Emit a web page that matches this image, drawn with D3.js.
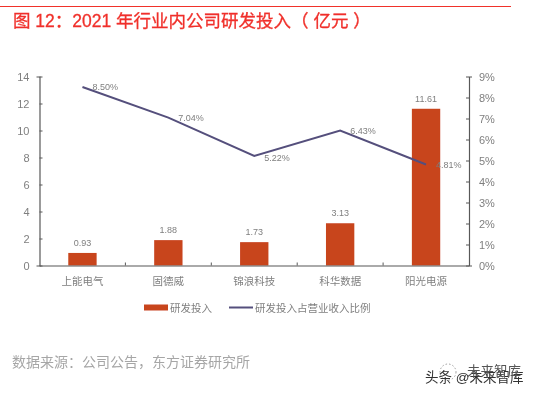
<!DOCTYPE html>
<html>
<head>
<meta charset="utf-8">
<script src="https://cdn.jsdelivr.net/npm/d3@7"></script>
<style>
  html, body { margin: 0; padding: 0; background: #fff; }
  svg { display: block; }
  text { font-family: "Liberation Sans", "Noto Sans CJK SC", sans-serif; }
</style>
</head>
<body>
<svg id="chart"></svg>
<script>
var categories = ["上能电气", "固德威", "锦浪科技", "科华数据", "阳光电源"];
var rdSpend = [0.93, 1.88, 1.73, 3.13, 11.61];
var rdRatio = [8.50, 7.04, 5.22, 6.43, 4.81];
var leftTicks = [0, 2, 4, 6, 8, 10, 12, 14];
var rightTicks = [0, 1, 2, 3, 4, 5, 6, 7, 8, 9];
var legendNames = ["研发投入", "研发投入占营业收入比例"];

var grey = "#7f7f7f", axisColor = "#595959", barColor = "#c8441f", lineColor = "#544f7c";

var margin = { top: 76.5, right: 65, bottom: 128.5, left: 39.5 },
  width = 534 - margin.left - margin.right,
  height = 394 - margin.top - margin.bottom;

var root = d3.select("#chart").attr("width", 534).attr("height", 394);

// reference is a slightly soft screenshot
var defs = root.append("defs");
defs.append("filter").attr("id", "soft")
  .append("feGaussianBlur").attr("stdDeviation", 0.4);

var page = root.append("g").attr("filter", "url(#soft)");

// header
page.append("line")
  .attr("x1", 0).attr("x2", 511).attr("y1", 6.5).attr("y2", 6.5)
  .attr("stroke", "#f0312c").attr("stroke-width", 1);
page.append("text")
  .attr("x", 13).attr("y", 27)
  .attr("fill", "#f0302a")
  .attr("stroke", "#f0302a")
  .attr("stroke-width", 0.3)
  .attr("font-size", 17.5)
  .attr("xml:space", "preserve")
  .style("white-space", "pre")
  .text("图 12：2021 年行业内公司研发投入（ 亿元 ）");

var svg = page.append("g")
  .attr("transform", "translate(" + margin.left + "," + margin.top + ")");

var x = d3.scaleBand().domain(categories).range([0, width]).paddingInner(0.67).paddingOuter(0.335);
var xOuter = d3.scaleBand().domain(categories).range([0, width]);
var y = d3.scaleLinear().domain([0, 14]).range([height, 0]);
var y2 = d3.scaleLinear().domain([0, 9]).range([height, 0]);

// bars
svg.selectAll(".bar")
  .data(categories)
  .enter()
  .append("rect")
  .attr("class", "bar")
  .attr("x", function (d) { return x(d); })
  .attr("width", x.bandwidth())
  .attr("y", function (d, i) { return y(rdSpend[i]); })
  .attr("height", function (d, i) { return height - y(rdSpend[i]); })
  .attr("fill", barColor);

svg.selectAll(".bar-label")
  .data(categories)
  .enter()
  .append("text")
  .attr("class", "bar-label")
  .attr("x", function (d) { return x(d) + x.bandwidth() / 2; })
  .attr("y", function (d, i) { return y(rdSpend[i]) - 7; })
  .attr("text-anchor", "middle")
  .attr("font-size", 9)
  .attr("fill", grey)
  .text(function (d, i) { return rdSpend[i].toFixed(2); });

// axes
function styleAxis(g) {
  g.selectAll("path").attr("stroke", axisColor).attr("stroke-width", 1.2);
  g.selectAll("line").attr("stroke", axisColor);
  g.selectAll("text").attr("fill", grey).attr("font-size", 11);
}

svg.append("g")
  .call(d3.axisLeft(y).tickValues(leftTicks).tickSize(3).tickSizeOuter(3).tickPadding(7))
  .call(styleAxis)
  .selectAll("line").attr("x2", 3);

svg.append("g")
  .attr("transform", "translate(" + width + ",0)")
  .call(d3.axisRight(y2).tickValues(rightTicks).tickFormat(function (d) { return d + "%"; })
    .tickSize(3).tickSizeOuter(3).tickPadding(7))
  .call(styleAxis)
  .selectAll("line").attr("x2", -3);

var xAxis = svg.append("g")
  .attr("transform", "translate(0," + height + ")")
  .call(d3.axisBottom(xOuter).tickSize(0).tickSizeOuter(0).tickPadding(12))
  .call(styleAxis);
xAxis.selectAll("text").attr("font-size", 10.5);

// tick marks sit between the categories and point up
svg.selectAll(".x-tick")
  .data(categories.slice(1))
  .enter()
  .append("line")
  .attr("class", "x-tick")
  .attr("x1", function (d) { return xOuter(d); })
  .attr("x2", function (d) { return xOuter(d); })
  .attr("y1", height)
  .attr("y2", height - 3)
  .attr("stroke", axisColor);

// ratio line
var line = d3.line()
  .x(function (d, i) { return xOuter(categories[i]) + xOuter.bandwidth() / 2; })
  .y(function (d) { return y2(d); });

svg.append("path")
  .datum(rdRatio)
  .attr("d", line)
  .attr("fill", "none")
  .attr("stroke", lineColor)
  .attr("stroke-width", 2);

var labelOffset = [[10, 3], [10, 3], [10, 5], [10, 3.5], [10, 4]];
svg.selectAll(".line-label")
  .data(rdRatio)
  .enter()
  .append("text")
  .attr("class", "line-label")
  .attr("x", function (d, i) { return xOuter(categories[i]) + xOuter.bandwidth() / 2 + labelOffset[i][0]; })
  .attr("y", function (d, i) { return y2(d) + labelOffset[i][1]; })
  .attr("font-size", 9)
  .attr("fill", grey)
  .text(function (d) { return d.toFixed(2) + "%"; });

// legend
var legend = page.append("g").attr("transform", "translate(144,307.5)");
legend.append("rect")
  .attr("x", 0).attr("y", -3).attr("width", 24).attr("height", 6).attr("fill", barColor);
legend.append("text")
  .attr("x", 26).attr("y", 4).attr("font-size", 10.5).attr("fill", grey).text(legendNames[0]);
legend.append("line")
  .attr("x1", 85).attr("x2", 109).attr("y1", 0).attr("y2", 0)
  .attr("stroke", lineColor).attr("stroke-width", 2);
legend.append("text")
  .attr("x", 111).attr("y", 4).attr("font-size", 10.5).attr("fill", grey).text(legendNames[1]);

// source
page.append("text")
  .attr("x", 12).attr("y", 367)
  .attr("font-size", 14)
  .attr("fill", "#a6a6a6")
  .text("数据来源：公司公告，东方证券研究所");

// watermark, doubled in the reference
page.append("circle")
  .attr("cx", 448).attr("cy", 372).attr("r", 8)
  .attr("fill", "none").attr("stroke", "#999").attr("stroke-width", 1).attr("stroke-dasharray", "1.5 2");
page.append("text")
  .attr("x", 425).attr("y", 382)
  .attr("font-size", 13.5).attr("fill", "#333")
  .text("头条 @未来智库");
page.append("text")
  .attr("x", 467).attr("y", 376)
  .attr("font-size", 13.5).attr("fill", "#555")
  .text("未来智库");
</script>
</body>
</html>
